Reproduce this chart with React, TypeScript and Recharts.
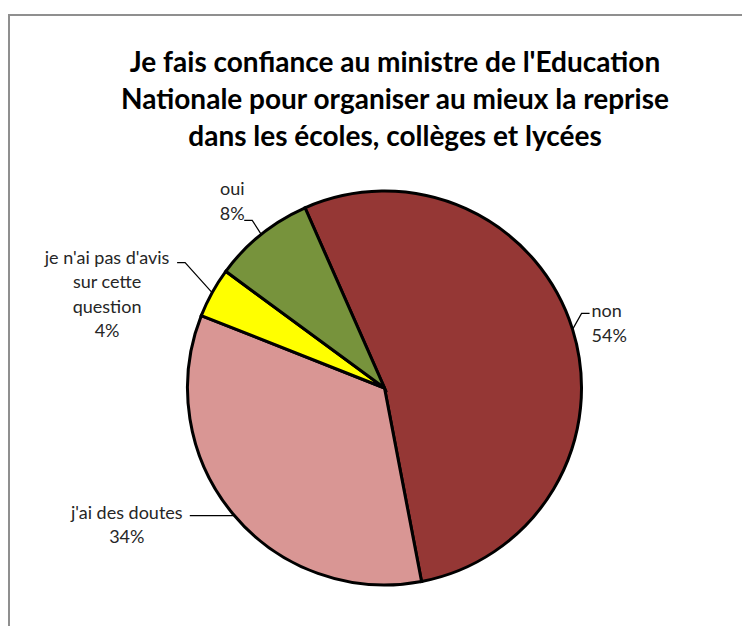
import React from 'react';
import { PieChart, Pie, Cell } from 'recharts';

const categories = ['non', "j'ai des doutes", "je n'ai pas d'avis\nsur cette\nquestion", 'oui'];
const values = [53.6, 34.0, 4.1, 8.3];
const COLORS = ['#953735', '#D99694', '#FFFF00', '#77933C'];

const titleLines = [
  "Je fais confiance au ministre de l'Education",
  'Nationale pour organiser au mieux la reprise',
  'dans les écoles, collèges et lycées',
];

// leader line + text placement, relative to the point on the rim at midAngle
const labelLayout = [
  { bend: [9, -16], end: [17, -16], text: [19, -19], anchor: 'start' },
  { bend: [0, 2], end: [-43, 2], text: [-106, -2], anchor: 'middle' },
  { bend: [-27, -30], end: [-35, -30], text: [-105, -36], anchor: 'middle' },
  { bend: [-9, -14], end: [-17, -14], text: [-29, -46], anchor: 'middle' },
];

const data = categories.map((name, i) => ({ name, value: values[i] }));

const RAD = Math.PI / 180;
const LINE_H = 24.5;

const renderLabel = (props: any) => {
  const { cx, cy, midAngle, outerRadius, percent, index, name } = props;
  const ex = cx + outerRadius * Math.cos(-midAngle * RAD);
  const ey = cy + outerRadius * Math.sin(-midAngle * RAD);
  const l = labelLayout[index];
  const pts = [
    [ex, ey],
    [ex + l.bend[0], ey + l.bend[1]],
    [ex + l.end[0], ey + l.end[1]],
  ];
  const lines = [...String(name).split('\n'), `${Math.round(percent * 100)}%`];
  const tx = ex + l.text[0];
  const ty = ey + l.text[1];
  return (
    <g key={`lbl-${index}`}>
      <polyline
        points={pts.map((p) => p.join(',')).join(' ')}
        fill="none"
        stroke="#000"
        strokeWidth={1.2}
      />
      <text
        x={tx}
        y={ty}
        textAnchor={l.anchor}
        fontFamily="Lato, sans-serif"
        fontSize={18}
        fill="#262626"
      >
        {lines.map((t, i) => (
          <tspan key={i} x={tx} y={ty + i * LINE_H} dominantBaseline="central">
            {t}
          </tspan>
        ))}
      </text>
    </g>
  );
};

export default function App() {
  return (
    <div style={{ position: 'relative', width: 742, height: 618, overflow: 'hidden', background: '#fff' }}>
      <div
        style={{
          position: 'absolute',
          left: 0,
          top: 6,
          width: 800,
          height: 700,
          borderLeft: '2px solid #8f8f8f',
          borderTop: '2px solid #8f8f8f',
        }}
      />
      <div
        style={{
          position: 'absolute',
          left: 16,
          top: 35,
          width: 742,
          textAlign: 'center',
          fontFamily: 'Lato, sans-serif',
          fontWeight: 700,
          fontSize: 28,
          lineHeight: '37px',
          color: '#000',
        }}
      >
        {titleLines.map((t, i) => (
          <div key={i}>{t}</div>
        ))}
      </div>
      <div style={{ position: 'absolute', left: 0, top: 0 }}>
        <PieChart width={742} height={618} margin={{ top: 0, right: 0, bottom: 0, left: 0 }}>
          <Pie
            data={data}
            dataKey="value"
            nameKey="name"
            cx={376.5}
            cy={380}
            outerRadius={197}
            startAngle={113.8}
            endAngle={-246.2}
            stroke="#000"
            strokeWidth={3}
            labelLine={false}
            label={renderLabel}
            isAnimationActive={false}
          >
            {data.map((entry, index) => (
              <Cell key={`cell-${index}`} fill={COLORS[index]} />
            ))}
          </Pie>
        </PieChart>
      </div>
    </div>
  );
}
